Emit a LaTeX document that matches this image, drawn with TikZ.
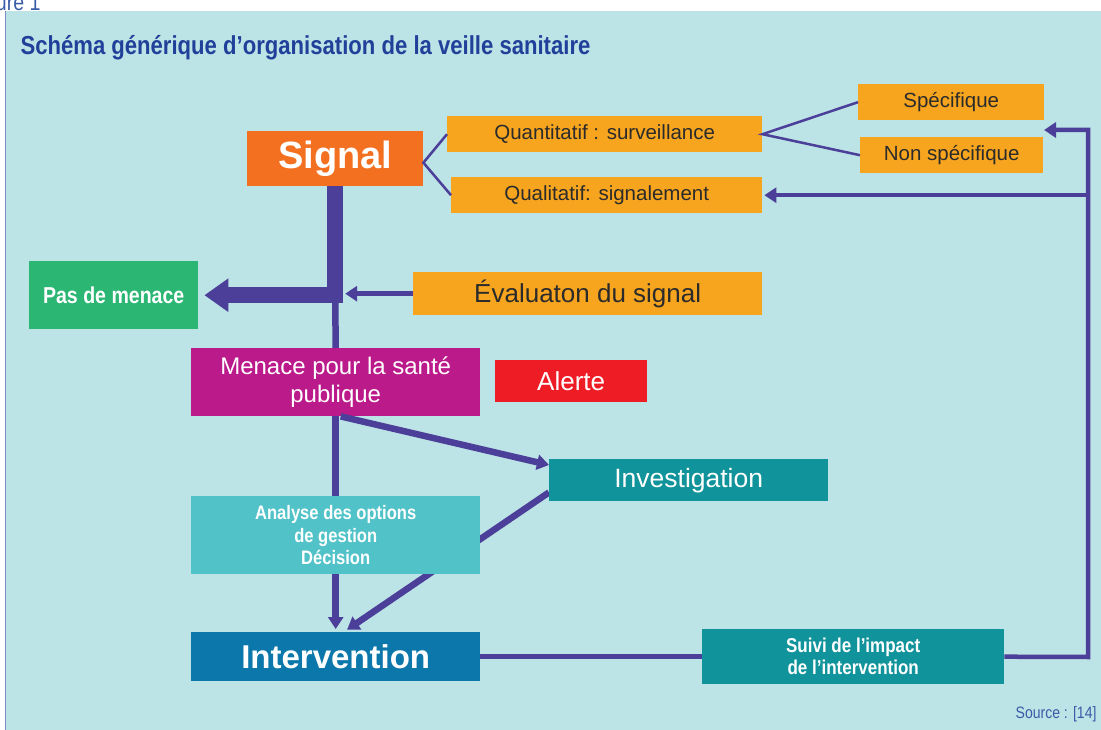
\documentclass[tikz,border=0pt]{standalone}
\usepackage{fontspec}
\setmainfont{Liberation Sans}
\newfontfamily\condfont[FakeStretch=0.85]{Liberation Sans}
\usetikzlibrary{positioning}
\usetikzlibrary{arrows.meta}
\usetikzlibrary{backgrounds}

\definecolor{bgcyan}{HTML}{BCE3E5}
\definecolor{linkblue}{HTML}{4B3F99}
\definecolor{titleblue}{HTML}{21409A}
\definecolor{sourceblue}{HTML}{3A5BA8}
\definecolor{edgeblue}{HTML}{7C8CC4}
\definecolor{sigorange}{HTML}{F37021}
\definecolor{boxyellow}{HTML}{F7A51E}
\definecolor{menagreen}{HTML}{2BB673}
\definecolor{menmagenta}{HTML}{BB1A8B}
\definecolor{alertred}{HTML}{EE1C25}
\definecolor{invteal}{HTML}{10939A}
\definecolor{analight}{HTML}{50C2C8}
\definecolor{intblue}{HTML}{0B77AA}
\definecolor{textdark}{HTML}{2B2B2B}

\begin{document}
\begin{tikzpicture}[x=1pt, y=-1pt,
    box/.style = {anchor=north west, inner sep=0pt, align=center, text=white},
    orangebox/.style = {box, fill=boxyellow, text=textdark, font=\fontsize{20.5}{24}\selectfont},
    branch/.style = {linkblue, line width=2.5pt},
    trunk/.style = {linkblue, line width=16pt, line join=miter},
    flow/.style = {linkblue, line width=6.5pt},
    loop/.style = {linkblue, line width=4.5pt},
    tip/.style = {-{Triangle[width=15pt,length=12pt]}},
    bigtip/.style = {-{Triangle[width=32pt,length=24pt]}}
]
    \useasboundingbox (0,0) rectangle (1101,730);

    % frame and background
    \begin{scope}[on background layer]
        \fill[bgcyan] (6,11) rectangle (1101,730);
    \end{scope}
    \draw[edgeblue, line width=1.2pt] (5.5,11) -- (5.5,730);

    \node (fig) [anchor=base east, text=sourceblue, font=\condfont\fontsize{23}{23}\selectfont] at (44,11) {Figure 1};
    \node (title) [anchor=west, text=titleblue, font=\condfont\bfseries\fontsize{26}{28}\selectfont] at (17,48) {Schéma générique d’organisation de la veille sanitaire};

    % boxes
    \node (sig) [box, fill=sigorange, minimum width=176pt, minimum height=55pt, font=\fontsize{38}{38}\selectfont\bfseries] at (247,131) {Signal};
    \node (quan) [orangebox, minimum width=315pt, minimum height=36pt] at (447,116) {Quantitatif : surveillance};
    \node (qual) [orangebox, minimum width=311pt, minimum height=36pt] at (451,177) {Qualitatif: signalement};
    \node (spec) [orangebox, minimum width=186pt, minimum height=36pt] at (858,84) {Spécifique};
    \node (nspec) [orangebox, minimum width=183pt, minimum height=36pt] at (860,137) {Non spécifique};
    \node (eval) [orangebox, minimum width=349pt, minimum height=43pt, font=\fontsize{26}{30}\selectfont] at (413,272) {Évaluaton du signal};
    \node (nomen) [box, fill=menagreen, minimum width=169pt, minimum height=68pt, font=\condfont\bfseries\fontsize{23}{26}\selectfont] at (29,261) {Pas de menace};
    \node (men) [box, fill=menmagenta, minimum width=289pt, minimum height=68pt, font=\fontsize{24}{28}\selectfont] at (191,348) {Menace pour la santé\\publique};
    \node (alert) [box, fill=alertred, minimum width=152pt, minimum height=42pt, font=\fontsize{26}{30}\selectfont] at (495,360) {Alerte};
    \node (inv) [box, fill=invteal, minimum width=279pt, minimum height=42pt, font=\fontsize{26.5}{30}\selectfont] at (549,459) {Investigation};
    \node (ana) [box, fill=analight, minimum width=289pt, minimum height=78pt, font=\condfont\bfseries\fontsize{19.5}{22.5}\selectfont] at (191,496) {Analyse des options\\de gestion\\Décision};
    \node (int) [box, fill=intblue, minimum width=289pt, minimum height=49pt, font=\fontsize{33}{34}\selectfont\bfseries] at (191,632) {Intervention};
    \node (suiv) [box, fill=invteal, minimum width=302pt, minimum height=55pt, font=\condfont\bfseries\fontsize{20}{22}\selectfont] at (702,629) {Suivi de l’impact\\de l’intervention};

    \node (src) [anchor=east, text=sourceblue, font=\condfont\fontsize{16.5}{17}\selectfont] at (1100,714) {Source : [14]};

    % helper points
    \coordinate (junc) at (sig.south |- eval.west);
    \coordinate (jright) at ([xshift=10pt]junc);
    \coordinate (rb) at (1088,657);
    \coordinate (rt) at (1088,130);
    \coordinate (rtip) at (1044,130);
    \coordinate (rq) at (rb |- qual.east);

    % connectors
    \draw[branch] (quan.west) -- ([yshift=-4pt]sig.east) -- (qual.west);
    \draw[branch] (spec.west) -- (quan.east) -- (nspec.west);

    \draw[trunk, bigtip, shorten >=6pt] (sig.south) |- (nomen.east);
    \draw[flow] (junc) -- (men.north);
    \draw[loop, tip] (eval.west) -- (jright);

    \draw[flow] (men.south) -- (ana.north);
    \draw[flow, tip, shorten >=3pt] (ana.south) -- (int.north);
    \draw[flow, tip] ([xshift=5pt]men.south) -- ([yshift=-6pt]inv.north west);
    \begin{scope}[on background layer]
        \draw[flow, tip, shorten >=4pt] ([yshift=9pt]inv.south west) -- ([xshift=8pt]int.north);
    \end{scope}

    \draw[loop] (int.east) -- (suiv.west);
    \draw[loop, tip] (suiv.east) -- (rb) -- (rt) -- (rtip);
    \draw[loop, tip] (rq) -- ([xshift=2pt]qual.east);
\end{tikzpicture}
\end{document}
